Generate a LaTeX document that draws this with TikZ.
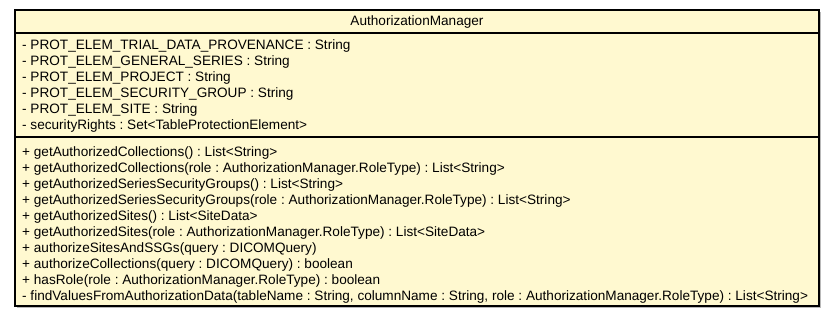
\documentclass[tikz,border=0pt]{standalone}
\usepackage{fontspec}
\setmainfont{Liberation Sans}
\usepackage{tikz}
\definecolor{classfill}{RGB}{255,249,208}

\begin{document}
\frenchspacing
\begin{tikzpicture}[x=1pt,y=-1pt,
    umltext/.style={inner sep=0pt,font=\fontsize{13.6}{15}\selectfont},
    member/.style={umltext,anchor=base west}]
    \useasboundingbox (0,0) rectangle (835,317);
    % class box with its shadow
    \fill[gray!55] (17,12) rectangle (821,308);
    \draw[fill=classfill,line width=1.1pt] (15,10) rectangle (819,306);
    \draw[line width=1.1pt] (15,33) -- (819,33);
    \draw[line width=1.1pt] (15,137) -- (819,137);
    \node[umltext,anchor=base] (name) at (417,25) {AuthorizationManager};
    % fields
    \foreach \txt [count=\i] in {
        - PROT\_ELEM\_TRIAL\_DATA\_PROVENANCE : String,
        - PROT\_ELEM\_GENERAL\_SERIES : String,
        - PROT\_ELEM\_PROJECT : String,
        - PROT\_ELEM\_SECURITY\_GROUP : String,
        - PROT\_ELEM\_SITE : String,
        - securityRights : Set<TableProtectionElement>}
        \node[member] (field\i) at (22,{33+16*\i}) {\txt};
    % methods
    \foreach \txt [count=\i] in {
        + getAuthorizedCollections() : List<String>,
        + getAuthorizedCollections(role : AuthorizationManager.RoleType) : List<String>,
        + getAuthorizedSeriesSecurityGroups() : List<String>,
        + getAuthorizedSeriesSecurityGroups(role : AuthorizationManager.RoleType) : List<String>,
        + getAuthorizedSites() : List<SiteData>,
        + getAuthorizedSites(role : AuthorizationManager.RoleType) : List<SiteData>,
        + authorizeSitesAndSSGs(query : DICOMQuery),
        + authorizeCollections(query : DICOMQuery) : boolean,
        + hasRole(role : AuthorizationManager.RoleType) : boolean,
        - findValuesFromAuthorizationData(tableName : String{,} columnName : String{,} role : AuthorizationManager.RoleType) : List<String>}
        \node[member] (method\i) at (22,{140+16*\i}) {\txt};
\end{tikzpicture}
\end{document}
